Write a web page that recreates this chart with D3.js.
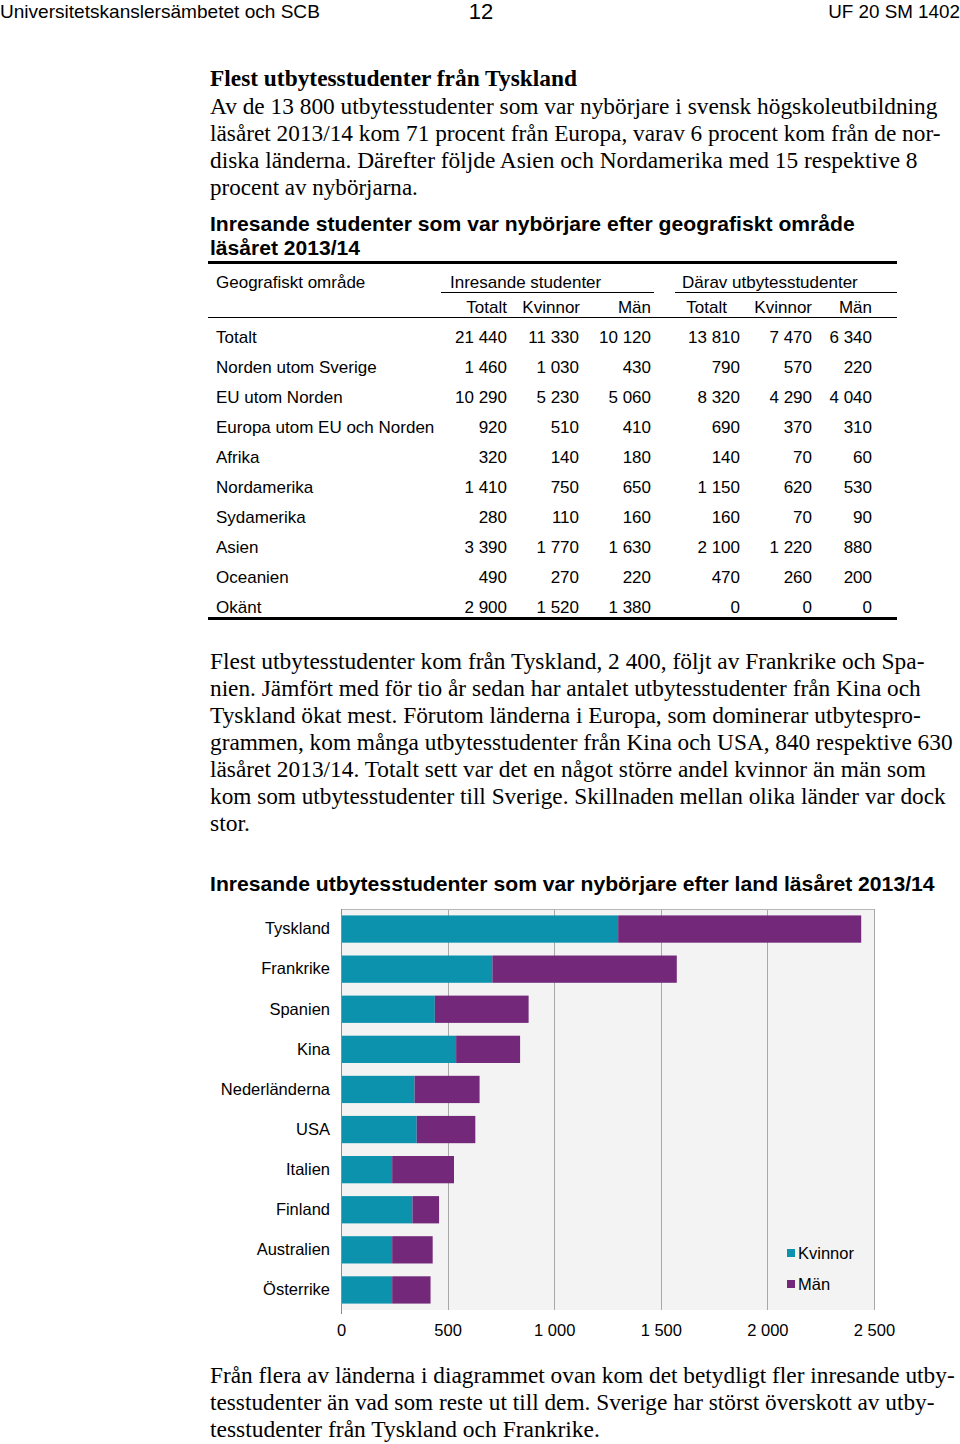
<!DOCTYPE html>
<html><head><meta charset="utf-8">
<script src="https://cdn.jsdelivr.net/npm/d3@7"></script>
<style>body{margin:0;background:#fff}svg{display:block}</style>
</head><body>
<script>
// ---- data ----
const regions = ["Totalt","Norden utom Sverige","EU utom Norden","Europa utom EU och Norden","Afrika","Nordamerika","Sydamerika","Asien","Oceanien","Okänt"];
const inTotalt  = [21440,1460,10290,920,320,1410,280,3390,490,2900];
const inKvinnor = [11330,1030,5230,510,140,750,110,1770,270,1520];
const inMan     = [10120,430,5060,410,180,650,160,1630,220,1380];
const utTotalt  = [13810,790,8320,690,140,1150,160,2100,470,0];
const utKvinnor = [7470,570,4290,370,70,620,70,1220,260,0];
const utMan     = [6340,220,4040,310,60,530,90,880,200,0];

const countries = ["Tyskland","Frankrike","Spanien","Kina","Nederländerna","USA","Italien","Finland","Australien","Österrike"];
const kvinnor = [1300,710,440,540,345,355,240,335,240,240];
const man     = [1140,865,440,300,305,275,290,125,190,180];
const xTicks = [0,500,1000,1500,2000,2500];
const seriesNames = ["Kvinnor","Män"];

const W = 960, H = 1444;
const sans = "'Liberation Sans', Arial, sans-serif";
const serif = "'Liberation Serif', 'Times New Roman', serif";
const fmt = d3.formatLocale({decimal:",", thousands:"\u00a0", grouping:[3], currency:["",""]}).format(",d");

const svg = d3.select("body").append("svg").attr("width", W).attr("height", H);

function txt(s, x, y, o = {}) {
  const g = svg.append("g").attr("transform", `translate(${x},${y})`);
  const t = g.append("text").attr("x", 0).attr("y", 0).attr("dy", "0.35em")
    .attr("font-family", o.family || sans).attr("font-size", o.size || 16)
    .attr("font-weight", o.weight || "normal").attr("fill", o.fill || "#000")
    .attr("text-anchor", o.anchor || "start").text(s);
  if (o.width) {
    const n = t.node().getComputedTextLength();
    if (n > 0) t.attr("transform", `scale(${o.width / n},1)`);
  }
  return t;
}

// ---- page header ----
txt("Universitetskanslersämbetet och SCB", 0, 12, {size: 18, width: 320});
txt("12", 481, 11, {size: 22, anchor: "middle"});
txt("UF 20 SM 1402", 960, 12, {size: 18, anchor: "end", width: 132});

// ---- paragraph 1 ----
const SZ = 24;
txt("Flest utbytesstudenter från Tyskland", 210, 78, {family: serif, size: SZ, weight: "bold", width: 367});
const p1 = [
  ["Av de 13 800 utbytesstudenter som var nybörjare i svensk högskoleutbildning", 728],
  ["läsåret 2013/14 kom 71 procent från Europa, varav 6 procent kom från de nor-", 731],
  ["diska länderna. Därefter följde Asien och Nordamerika med 15 respektive 8", 708],
  ["procent av nybörjarna.", 208]
];
p1.forEach((l, i) => txt(l[0], 210, 106 + i * 27, {family: serif, size: SZ, width: l[1]}));

// ---- table ----
const TS = 17;
txt("Inresande studenter som var nybörjare efter geografiskt område", 210, 224, {size: 19.5, weight: "bold", width: 645});
txt("läsåret 2013/14", 210, 248, {size: 19.5, weight: "bold", width: 150});
svg.append("rect").attr("x", 208).attr("y", 261).attr("width", 689).attr("height", 3).attr("fill", "#000");
txt("Geografiskt område", 216, 282, {size: TS});
txt("Inresande studenter", 450, 282, {size: TS});
txt("Därav utbytesstudenter", 682, 282, {size: TS});
svg.append("rect").attr("x", 441).attr("y", 292).attr("width", 213).attr("height", 1).attr("fill", "#000");
svg.append("rect").attr("x", 675).attr("y", 292).attr("width", 222).attr("height", 1).attr("fill", "#000");
const colHead = ["Totalt","Kvinnor","Män","Totalt","Kvinnor","Män"];
const headX = [507,580,651,727,812,872];
colHead.forEach((h, i) => txt(h, headX[i], 307, {size: TS, anchor: "end"}));
svg.append("rect").attr("x", 208).attr("y", 317).attr("width", 689).attr("height", 1).attr("fill", "#000");
const cols = [inTotalt, inKvinnor, inMan, utTotalt, utKvinnor, utMan];
const colX = [507,579,651,740,812,872];
const rowY = d3.scalePoint().domain(regions).range([337, 607]);
regions.forEach((r) => {
  txt(r, 216, rowY(r), {size: TS});
});
cols.forEach((c, ci) => c.forEach((v, ri) => txt(fmt(v), colX[ci], rowY(regions[ri]), {size: TS, anchor: "end"})));
svg.append("rect").attr("x", 208).attr("y", 617).attr("width", 689).attr("height", 3).attr("fill", "#000");

// ---- paragraph 2 ----
const p2 = [
  ["Flest utbytesstudenter kom från Tyskland, 2 400, följt av Frankrike och Spa-", 715],
  ["nien. Jämfört med för tio år sedan har antalet utbytesstudenter från Kina och", 711],
  ["Tyskland ökat mest. Förutom länderna i Europa, som dominerar utbytespro-", 711],
  ["grammen, kom många utbytesstudenter från Kina och USA, 840 respektive 630", 743],
  ["läsåret 2013/14. Totalt sett var det en något större andel kvinnor än män som", 716],
  ["kom som utbytesstudenter till Sverige. Skillnaden mellan olika länder var dock", 736],
  ["stor.", 40]
];
p2.forEach((l, i) => txt(l[0], 210, 661 + i * 27, {family: serif, size: SZ, width: l[1]}));

// ---- chart ----
txt("Inresande utbytesstudenter som var nybörjare efter land läsåret 2013/14", 210, 884, {size: 19.5, weight: "bold", width: 725});

const x = d3.scaleLinear().domain([0, 2500]).range([341, 874]);
const y = d3.scaleBand().domain(countries).range([909, 1310]).paddingInner(0.32).paddingOuter(0.16);
const color = d3.scaleOrdinal().domain(seriesNames).range(["#0c92ac", "#73287a"]);

svg.append("rect").attr("x", x(0)).attr("y", 909).attr("width", x(2500) - x(0)).attr("height", 401).attr("fill", "#f3f3f3");
svg.append("g").selectAll("line").data(xTicks.slice(1)).join("line")
  .attr("x1", d => Math.round(x(d)) + 0.5).attr("x2", d => Math.round(x(d)) + 0.5)
  .attr("y1", 909).attr("y2", 1310).attr("stroke", "#a8a8a8").attr("stroke-width", 1);
svg.append("line").attr("x1", x(0)).attr("x2", x(2500)).attr("y1", 909.5).attr("y2", 909.5).attr("stroke", "#b8b8b8");

const rows = countries.map((c, i) => ({country: c, Kvinnor: kvinnor[i], "Män": man[i]}));
const stacked = d3.stack().keys(seriesNames)(rows);
svg.append("g").selectAll("g").data(stacked).join("g").attr("fill", d => color(d.key))
  .selectAll("rect").data(d => d).join("rect")
  .attr("x", d => x(d[0])).attr("width", d => x(d[1]) - x(d[0]))
  .attr("y", d => y(d.data.country)).attr("height", y.bandwidth());

// left axis line
svg.append("line").attr("x1", 341.5).attr("x2", 341.5).attr("y1", 909).attr("y2", 1314).attr("stroke", "#8c8c8c");

// category labels
const yAxis = svg.append("g").attr("transform", "translate(341,0)")
  .call(d3.axisLeft(y).tickSize(0).tickPadding(11));
yAxis.select(".domain").remove();
yAxis.selectAll("text").attr("font-family", sans).attr("font-size", 16.5).attr("fill", "#000");

// x axis labels
const xAxis = svg.append("g").attr("transform", "translate(0,1310)")
  .call(d3.axisBottom(x).tickValues(xTicks).tickSize(0).tickPadding(14).tickFormat(fmt));
xAxis.select(".domain").remove();
xAxis.selectAll("text").attr("font-family", sans).attr("font-size", 16.5).attr("fill", "#000");

// legend
const leg = svg.append("g").selectAll("g").data(seriesNames).join("g")
  .attr("transform", (d, i) => `translate(787,${1253 + i * 31})`);
leg.append("rect").attr("x", 0).attr("y", -4).attr("width", 8).attr("height", 8).attr("fill", d => color(d));
leg.append("text").attr("x", 11).attr("dy", "0.35em").attr("font-family", sans).attr("font-size", 16.5).text(d => d);

// ---- paragraph 3 ----
const p3 = [
  ["Från flera av länderna i diagrammet ovan kom det betydligt fler inresande utby-", 745],
  ["tesstudenter än vad som reste ut till dem. Sverige har störst överskott av utby-", 725],
  ["tesstudenter från Tyskland och Frankrike.", 390]
];
p3.forEach((l, i) => txt(l[0], 210, 1375 + i * 27, {family: serif, size: SZ, width: l[1]}));
</script>
</body></html>
